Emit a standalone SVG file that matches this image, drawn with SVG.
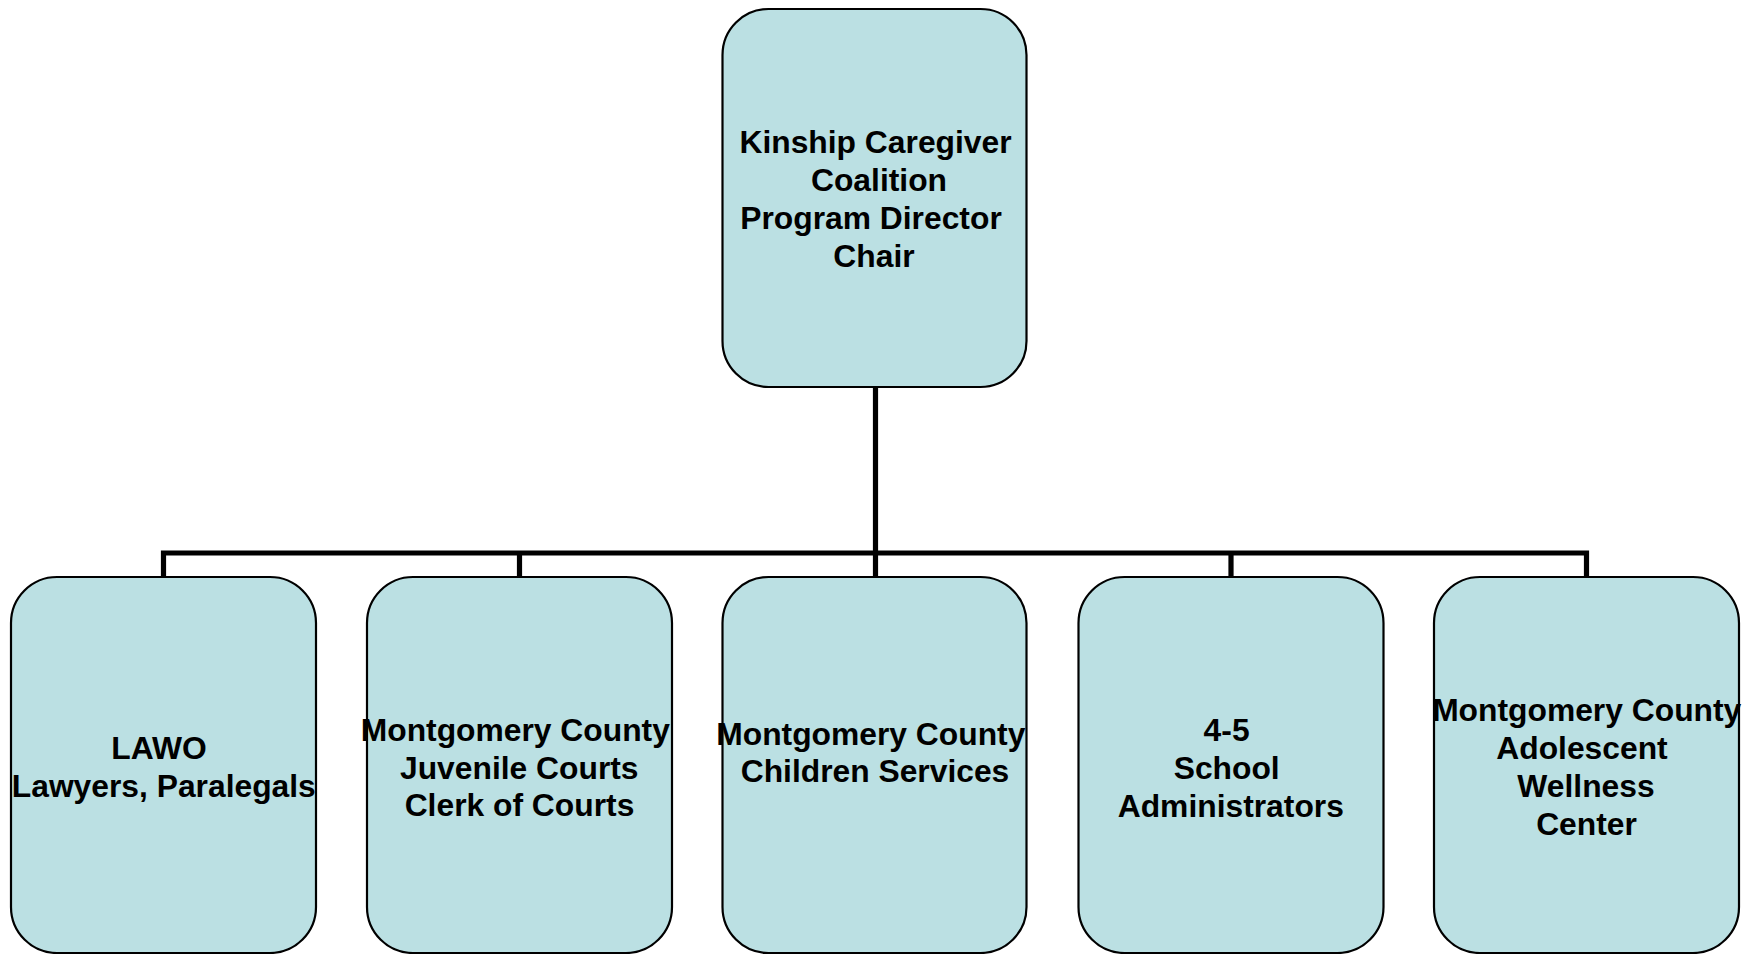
<svg xmlns="http://www.w3.org/2000/svg" width="1756" height="954" viewBox="0 0 1756 954">
<style>
.box{fill:#BBE0E3;stroke:#000;stroke-width:2.2}
.lbl{font-family:"Liberation Sans",Arial,sans-serif;font-weight:bold;font-size:31.8px;fill:#000;text-anchor:middle}
.conn{fill:none;stroke:#000;stroke-width:5.2;stroke-linejoin:miter;stroke-linecap:butt}
</style>
<rect width="1756" height="954" fill="#fff"/>
<g id="connectors">
<path class="conn" d="M875.5,387 V553"/>
<path class="conn" d="M163.5,577 V553 H1586.5 V577"/>
<path class="conn" d="M519.5,553 V577 M875.5,553 V577 M1231,553 V577"/>
</g>
<g id="node-top">
<rect class="box" x="722.5" y="9" width="304" height="378" rx="46" ry="46"/>
<text class="lbl"><tspan x="875.5" y="153.3">Kinship Caregiver</tspan><tspan x="879" y="191">Coalition</tspan><tspan x="871" y="229">Program Director</tspan><tspan x="874" y="266.8">Chair</tspan></text>
</g>
<g id="node-lawo">
<rect class="box" x="11" y="577" width="305" height="376" rx="46" ry="46"/>
<text class="lbl"><tspan x="159" y="759.3">LAWO</tspan><tspan x="163.8" y="797.3">Lawyers, Paralegals</tspan></text>
</g>
<g id="node-juvenile">
<rect class="box" x="367" y="577" width="305" height="376" rx="46" ry="46"/>
<text class="lbl"><tspan x="515.3" y="741">Montgomery County</tspan><tspan x="519.3" y="778.5">Juvenile Courts</tspan><tspan x="519.5" y="816">Clerk of Courts</tspan></text>
</g>
<g id="node-children">
<rect class="box" x="722.5" y="577" width="304" height="376" rx="46" ry="46"/>
<text class="lbl"><tspan x="870.8" y="745">Montgomery County</tspan><tspan x="875" y="782">Children Services</tspan></text>
</g>
<g id="node-school">
<rect class="box" x="1078.5" y="577" width="305" height="376" rx="46" ry="46"/>
<text class="lbl"><tspan x="1226.6" y="740.5">4-5</tspan><tspan x="1226.7" y="779">School</tspan><tspan x="1230.8" y="816.7">Administrators</tspan></text>
</g>
<g id="node-adolescent">
<rect class="box" x="1434" y="577" width="305" height="376" rx="46" ry="46"/>
<text class="lbl"><tspan x="1586.7" y="720.5">Montgomery County</tspan><tspan x="1582" y="759.3">Adolescent</tspan><tspan x="1586" y="797">Wellness</tspan><tspan x="1586.5" y="835">Center</tspan></text>
</g>
</svg>
